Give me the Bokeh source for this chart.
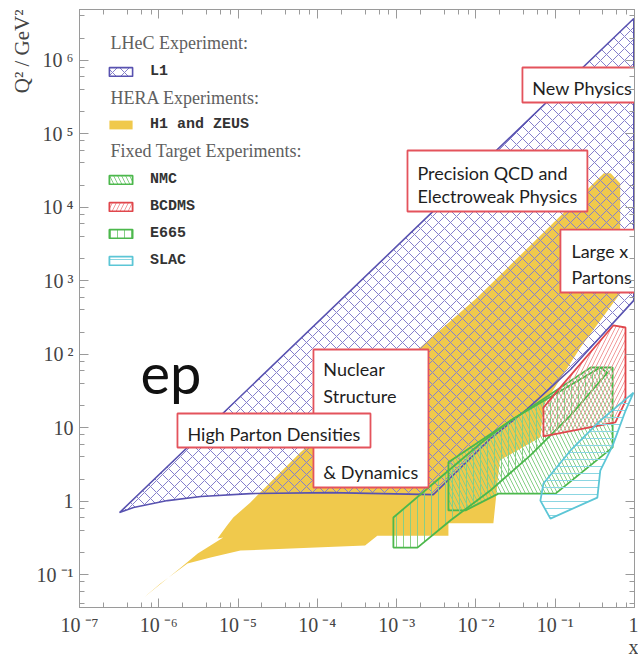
from bokeh.plotting import figure
from bokeh.models import (Range1d, LogAxis, LogTicker, CustomJSTickFormatter,
                          Legend, LegendItem, Label, Title, ColumnDataSource)
from bokeh.core.properties import value
from bokeh.embed import file_html
from bokeh.resources import INLINE

# ---- kinematic coverage regions (x, Q^2 / GeV^2) ----
l1_x = [3.2e-7, 4.8e-7, 1.29e-6, 3.4e-6, 1.43e-5, 1.46e-4, 2.9e-3, 0.0152, 0.0446, 0.156, 0.98, 0.98]
l1_q2 = [0.70, 0.82, 1.02, 1.16, 1.27, 1.31, 1.23, 7.1, 18.0, 62.0, 540.0, 3.7e6]

hera_x = [6.2e-7, 1.05e-6, 2.3e-6, 4.5e-6, 1.07e-5, 4.0e-4, 5.7e-4, 4.5e-3, 4.5e-3, 0.0166,
          0.020, 0.065, 0.071, 0.208, 0.66, 0.66, 0.50, 0.41, 0.0104, 6.1e-5, 1.9e-5,
          1.43e-5, 8.7e-6, 7.3e-6, 5.5e-6, 6.5e-6, 3.1e-6, 1.9e-6]
hera_q2 = [0.047, 0.076, 0.142, 0.171, 0.213, 0.25, 0.34, 0.34, 0.50, 0.50,
           3.6, 7.4, 20.0, 123.0, 670.0, 2.1e4, 2.9e4, 2.9e4, 590.0, 4.6, 1.31,
           0.96, 0.60, 0.47, 0.31, 0.32, 0.194, 0.125]

nmc_x = [4.5e-3, 7.4e-3, 0.0192, 0.101, 0.53, 0.53, 0.28, 4.5e-3]
nmc_q2 = [0.75, 0.75, 1.27, 1.27, 5.4, 66.0, 66.0, 3.4]

e665_x = [9.1e-4, 9.1e-4, 2.9e-3, 0.0114, 0.0272, 0.37, 0.455, 0.156, 0.0486, 0.0152, 4.8e-3, 1.83e-3]
e665_q2 = [0.234, 0.60, 1.74, 6.1, 12.5, 66.0, 56.0, 14.7, 4.2, 1.40, 0.55, 0.234]

bcdms_x = [0.071, 0.071, 0.574, 0.77, 0.77, 0.54, 0.107]
bcdms_q2 = [18.8, 7.6, 11.8, 23.0, 231.0, 246.0, 32.0]

slac_x = [0.97, 0.77, 0.53, 0.37, 0.34, 0.087, 0.065, 0.071, 0.156, 0.37]
slac_q2 = [30.0, 17.0, 5.7, 2.6, 1.12, 0.58, 1.02, 1.74, 4.9, 12.5]

# ---- physics-topic callouts ----
topic_lines = ["New Physics",
               "Precision QCD and", "Electroweak Physics",
               "Large x", "Partons",
               "Nuclear", "Structure", "& Dynamics",
               "High Parton Densities"]

# callout box extents and text anchors (x / Q^2 coordinates)
box_left = [0.0386, 1.37e-3, 0.1164, 8.93e-5, 1.72e-6]
box_right = [1.2, 0.2546, 1.2, 2.52e-3, 4.68e-4]
box_bottom = [2.66e5, 8.74e3, 691.0, 1.536, 5.38]
box_top = [7.96e5, 5.91e4, 4970.0, 115.9, 15.6]
line_x = [0.0515, 1.83e-3, 1.83e-3, 0.16, 0.16, 1.19e-4, 1.19e-4, 1.19e-4, 2.30e-6]
line_y = [4.25e5, 2.96e4, 1.40e4, 2576.0, 1141.0, 62.0, 27.4, 2.46, 8.34]

YELLOW = "#f0c94c"
PURPLE = "#5852b0"
GREEN = "#4cb84c"
RED = "#e0474c"
CYAN = "#5cc6d6"
BOX_RED = "#e4535c"
SERIF = "Liberation Serif"

p = figure(width=638, height=660, x_axis_type="log", y_axis_type="log",
           x_range=Range1d(1e-7, 1.0), y_range=Range1d(0.0358, 4.9e6),
           output_backend="svg", toolbar_location=None,
           min_border_left=79, min_border_right=4, min_border_top=9, min_border_bottom=53)
p.grid.visible = False
p.outline_line_color = "#9a9a9a"
p.background_fill_color = "white"
p.border_fill_color = "white"

# "10 ⁿ" style decade labels; the x axis carries its title under the last decade
sup_code = """
const e = Math.round(Math.log10(tick));
if (e === 0) return ONE;
if (e === 1) return "10";
const sup = {"-": "\\u207b", "0": "\\u2070", "1": "\\u00b9", "2": "\\u00b2", "3": "\\u00b3",
             "4": "\\u2074", "5": "\\u2075", "6": "\\u2076", "7": "\\u2077", "8": "\\u2078", "9": "\\u2079"};
return "10\\u2009" + String(e).split("").map(c => sup[c]).join("");
"""

def style_axis(ax, labels=True, one_label='"1"'):
    ax.ticker = LogTicker(desired_num_ticks=12)
    ax.axis_line_color = "#9a9a9a"
    ax.major_tick_line_color = "#9a9a9a"
    ax.minor_tick_line_color = "#9a9a9a"
    ax.major_tick_in = 9
    ax.major_tick_out = 0
    ax.minor_tick_in = 5
    ax.minor_tick_out = 0
    ax.major_label_text_font = SERIF
    if labels:
        ax.formatter = CustomJSTickFormatter(code=sup_code.replace("ONE", one_label))
        ax.major_label_text_font_size = "20px"
        ax.major_label_text_color = "#444444"
    else:
        ax.formatter = CustomJSTickFormatter(code="return '';")
        ax.major_label_standoff = 0

for ax in p.xaxis:
    style_axis(ax, one_label='"1\\nx"')
    ax.major_label_standoff = 6
    ax.major_label_text_line_height = 1.0
for ax in p.yaxis:
    style_axis(ax)
    ax.major_label_standoff = 6

top_axis = LogAxis()
style_axis(top_axis, labels=False)
p.add_layout(top_axis, "above")
right_axis = LogAxis()
style_axis(right_axis, labels=False)
p.add_layout(right_axis, "right")

# y-axis title set at the top end of the axis
p.add_layout(Title(text="Q\u00b2 / GeV\u00b2", align="right", standoff=0,
                   text_font=SERIF, text_font_size="21px", text_font_style="normal",
                   text_color="#444444"), "left")

# ---- regions ----
r_hera = p.patch(hera_x, hera_q2, fill_color=YELLOW, fill_alpha=1.0, line_color=None)
r_l1 = p.patch(l1_x, l1_q2, fill_color=None, line_color=PURPLE, line_width=1.6,
               hatch_pattern="x", hatch_color="#857fcb", hatch_scale=12, hatch_weight=1.0)
r_nmc = p.patch(nmc_x, nmc_q2, fill_color=None, line_color=GREEN, line_width=1.8,
                hatch_pattern="\\", hatch_color="#86cf86", hatch_scale=8, hatch_weight=1.0)
r_e665 = p.patch(e665_x, e665_q2, fill_color=None, line_color=GREEN, line_width=1.8,
                 hatch_pattern="|", hatch_color="#86cf86", hatch_scale=7, hatch_weight=1.0)
r_bcdms = p.patch(bcdms_x, bcdms_q2, fill_color=None, line_color=RED, line_width=1.8,
                  hatch_pattern="/", hatch_color="#f29a9a", hatch_scale=8, hatch_weight=1.0)
r_slac = p.patch(slac_x, slac_q2, fill_color=None, line_color=CYAN, line_width=1.8,
                 hatch_pattern="-", hatch_color="#8bd6e2", hatch_scale=7, hatch_weight=1.0)

# ---- callouts ----
p.quad(left=box_left, right=box_right, bottom=box_bottom, top=box_top,
       fill_color="white", line_color=BOX_RED, line_width=1.8)
src = ColumnDataSource(dict(x=line_x, y=line_y, text=topic_lines))
p.text(x="x", y="y", text="text", source=src, text_font=value("Lato"),
       text_font_size="18px", text_align="left", text_baseline="middle", text_color="#1e1e1e")

p.add_layout(Label(x=5.87e-7, y=56.0, text="ep", text_font="Lato", text_font_size="56px",
                   text_color="#111111", text_baseline="middle"))

# ---- legend: group headers + entries ----
for txt, yy in [("LHeC Experiment:", 565), ("HERA Experiments:", 510), ("Fixed Target Experiments:", 457)]:
    p.add_layout(Label(x=31, y=yy, x_units="screen", y_units="screen", text=txt,
                       text_font=SERIF, text_font_size="18px", text_color="#606060",
                       text_baseline="middle"))

def make_legend(items, loc):
    lg = Legend(items=items, location=loc, orientation="vertical",
                padding=0, margin=0, spacing=9, glyph_width=29, glyph_height=11,
                label_height=18, label_standoff=15,
                label_text_font="Liberation Mono", label_text_font_style="bold",
                label_text_font_size="15px", label_text_color="#333333",
                border_line_alpha=0, background_fill_alpha=0)
    p.add_layout(lg, "center")

make_legend([LegendItem(label="L1", renderers=[r_l1])], (27, 527))
make_legend([LegendItem(label="H1 and ZEUS", renderers=[r_hera])], (27, 474))
make_legend([LegendItem(label="NMC", renderers=[r_nmc]),
             LegendItem(label="BCDMS", renderers=[r_bcdms]),
             LegendItem(label="E665", renderers=[r_e665]),
             LegendItem(label="SLAC", renderers=[r_slac])], (27, 338))

open("out.html", "w").write(file_html(p, INLINE))
